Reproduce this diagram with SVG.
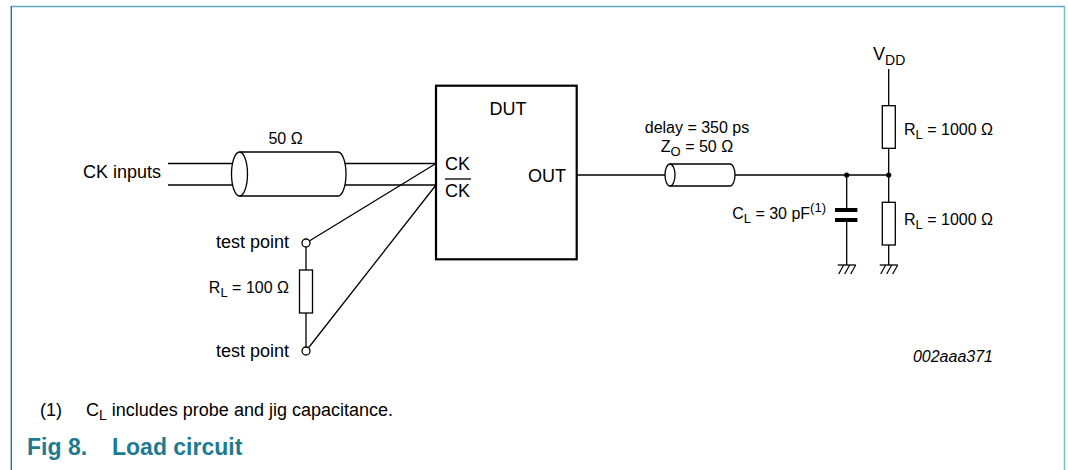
<svg xmlns="http://www.w3.org/2000/svg" width="1068" height="470" viewBox="0 0 1068 470">
<style>
  text { font-family: "Liberation Sans", Arial, sans-serif; fill: #000; }
  .t18 { font-size: 18px; }
  .t16 { font-size: 16px; }
  .w { stroke: #000; stroke-width: 1.3; fill: none; }
  .box { stroke: #000; stroke-width: 2.2; fill: #fff; }
  .res { stroke: #000; stroke-width: 1.3; fill: #fff; }
  .cap { fill: #000; }
  .dot { fill: #000; }
  .tp { stroke: #000; stroke-width: 1.3; fill: #fff; }
  .sub { font-size: 13px; }
  .sub18 { font-size: 14px; }
  .cap-title { font-size: 23px; font-weight: bold; fill: #1d7b91; }
</style>
<defs>
  <g id="gnd">
    <line x1="-9" y1="0" x2="9" y2="0" stroke="#000" stroke-width="1.3"/>
    <line x1="-3" y1="0" x2="-8" y2="9" stroke="#000" stroke-width="1.2"/>
    <line x1="3" y1="0" x2="-2" y2="9" stroke="#000" stroke-width="1.2"/>
    <line x1="9" y1="0" x2="4" y2="9" stroke="#000" stroke-width="1.2"/>
  </g>
</defs>

<g id="frame">
  <line x1="11" y1="6.5" x2="1065" y2="6.5" stroke="#5ea9ba" stroke-width="1.5"/>
  <line x1="11.3" y1="6" x2="11.3" y2="470" stroke="#1b6c80" stroke-width="1.3"/>
  <line x1="1064.5" y1="6" x2="1064.5" y2="470" stroke="#7db9c7" stroke-width="1.5"/>
</g>

<g id="connectors">
  <line class="w" x1="168" y1="163.5" x2="232.6" y2="163.5"/>
  <line class="w" x1="168" y1="185" x2="232.6" y2="185"/>
  <line class="w" x1="345" y1="163.5" x2="436" y2="163.5"/>
  <line class="w" x1="345" y1="185" x2="436" y2="185"/>
  <line class="w" x1="436" y1="163.5" x2="306" y2="243"/>
  <line class="w" x1="436" y1="185" x2="306" y2="351"/>
  <line class="w" x1="306" y1="243" x2="306" y2="351"/>
  <line class="w" x1="577" y1="175" x2="665" y2="175"/>
  <line class="w" x1="735" y1="175" x2="888.7" y2="175"/>
  <line class="w" x1="888.7" y1="69" x2="888.7" y2="265"/>
  <line class="w" x1="846.7" y1="175" x2="846.7" y2="265"/>
</g>

<g id="coax_in">
  <path class="w" d="M239.5 152 L338 152 A8 22 0 0 1 338 196 L239.5 196" fill="#fff"/>
  <ellipse class="w" cx="239.5" cy="174" rx="8" ry="22" fill="#fff"/>
  <text class="t16" x="285.5" y="144" text-anchor="middle">50 Ω</text>
</g>
<text class="t18" x="161" y="178" text-anchor="end">CK inputs</text>

<g id="dut">
  <rect class="box" x="436" y="85.7" width="140.7" height="173.6"/>
  <text class="t18" x="508" y="115" text-anchor="middle">DUT</text>
  <text class="t18" x="445" y="170">CK</text>
  <line x1="445" y1="179" x2="471" y2="179" stroke="#000" stroke-width="1.3"/>
  <text class="t18" x="445" y="197">CK</text>
  <text class="t18" x="528" y="182">OUT</text>
</g>

<g id="test_points">
  <rect class="res" x="299.5" y="270" width="13" height="43"/>
  <circle class="tp" cx="306" cy="243" r="4"/>
  <circle class="tp" cx="306" cy="351" r="4"/>
  <text class="t18" x="289" y="248.3" text-anchor="end">test point</text>
  <text class="t18" x="289" y="356.7" text-anchor="end">test point</text>
  <text class="t16" x="289" y="292.7" text-anchor="end">R<tspan class="sub" dy="4">L</tspan><tspan dy="-4"> = 100 Ω</tspan></text>
</g>

<g id="coax_out">
  <path class="w" d="M670 164 L730 164 A5 11 0 0 1 730 186 L670 186" fill="#fff"/>
  <ellipse class="w" cx="670" cy="175" rx="5" ry="11" fill="#fff"/>
  <text class="t16" x="697" y="133" text-anchor="middle">delay = 350 ps</text>
  <text class="t16" x="697" y="152" text-anchor="middle">Z<tspan class="sub" dy="4">O</tspan><tspan dy="-4"> = 50 Ω</tspan></text>
</g>

<g id="load">
  <circle class="dot" cx="846.7" cy="175" r="2.6"/>
  <circle class="dot" cx="888.7" cy="175" r="2.6"/>
  <rect class="res" x="882.3" y="105.7" width="13" height="42.6"/>
  <rect class="res" x="882.3" y="202.3" width="13" height="42.7"/>
  <rect x="835" y="211.9" width="22.4" height="6.4" fill="#fff"/>
  <rect class="cap" x="835" y="208" width="22.4" height="4"/>
  <rect class="cap" x="835" y="218" width="22.4" height="4"/>
  <use href="#gnd" x="846.7" y="265"/>
  <use href="#gnd" x="888.7" y="265"/>
  <text class="t18" x="873" y="60">V<tspan class="sub18" dy="5">DD</tspan></text>
  <text class="t16" x="904" y="135">R<tspan class="sub" dy="4">L</tspan><tspan dy="-4"> = 1000 Ω</tspan></text>
  <text class="t16" x="904" y="225">R<tspan class="sub" dy="4">L</tspan><tspan dy="-4"> = 1000 Ω</tspan></text>
  <text class="t16" x="826" y="218.5" text-anchor="end">C<tspan class="sub" dy="4">L</tspan><tspan dy="-4"> = 30 pF</tspan><tspan class="sub" dy="-7">(1)</tspan></text>
</g>

<text class="t16" x="993" y="362" text-anchor="end" font-style="italic">002aaa371</text>

<g id="footnote">
  <text class="t18" x="40" y="416">(1)</text>
  <text class="t18" x="86" y="416">C<tspan class="sub18" dy="4">L</tspan><tspan dy="-4"> includes probe and jig capacitance.</tspan></text>
</g>
<g id="caption">
  <text class="cap-title" x="27" y="455">Fig 8.</text>
  <text class="cap-title" x="112" y="455">Load circuit</text>
</g>
</svg>
